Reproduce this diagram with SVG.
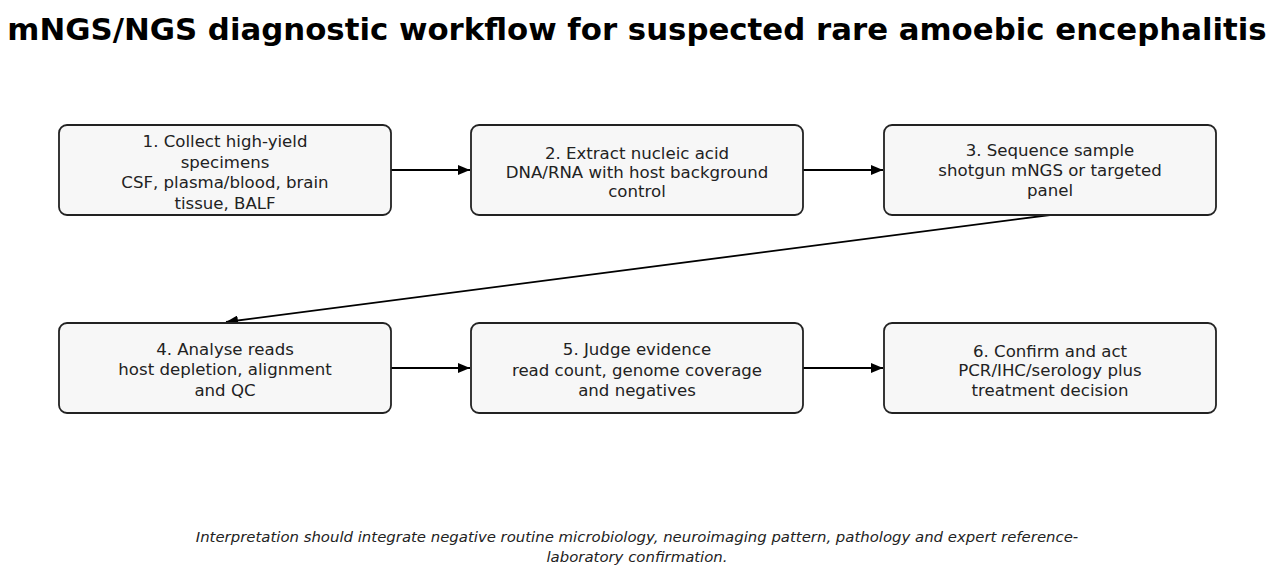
<svg xmlns="http://www.w3.org/2000/svg" width="1275" height="576" viewBox="0 0 1275 576">
<style>
.box{fill:#f7f7f7;stroke:#222;stroke-width:1.8}
.t{font-family:"DejaVu Sans",sans-serif;font-size:16.6px;fill:#222;text-anchor:middle}
.title{font-family:"DejaVu Sans",sans-serif;font-size:30.8px;font-weight:bold;fill:#000;text-anchor:middle}
.foot{font-family:"DejaVu Sans",sans-serif;font-size:14.9px;font-style:italic;fill:#222;text-anchor:middle}
.c{stroke:#000;stroke-width:1.8;fill:none}
</style>
<defs>
<marker id="ah" viewBox="0 0 12 10" refX="12" refY="5" markerWidth="12" markerHeight="10" markerUnits="userSpaceOnUse" orient="auto">
<path d="M0,0 L12,5 L0,10 z" fill="#000"/>
</marker>
</defs>
<rect width="1275" height="576" fill="#fff"/>
<text class="title" x="637" y="40">mNGS/NGS diagnostic workflow for suspected rare amoebic encephalitis</text>
<g id="connectors">
<line class="c" x1="391" y1="170" x2="470" y2="170" marker-end="url(#ah)"/>
<line class="c" x1="803" y1="170" x2="883" y2="170" marker-end="url(#ah)"/>
<line class="c" x1="1050" y1="215" x2="226" y2="322" marker-end="url(#ah)"/>
<line class="c" x1="391" y1="368" x2="470" y2="368" marker-end="url(#ah)"/>
<line class="c" x1="803" y1="368" x2="883" y2="368" marker-end="url(#ah)"/>
</g>
<g id="node1">
<rect class="box" x="59" y="125" width="332" height="90" rx="8"/>
<text class="t" x="225" y="147">1. Collect high-yield</text>
<text class="t" x="225" y="167.5">specimens</text>
<text class="t" x="225" y="188">CSF, plasma/blood, brain</text>
<text class="t" x="225" y="208.5">tissue, BALF</text>
</g>
<g id="node2">
<rect class="box" x="471" y="125" width="332" height="90" rx="8"/>
<text class="t" x="637" y="159">2. Extract nucleic acid</text>
<text class="t" x="637" y="178">DNA/RNA with host background</text>
<text class="t" x="637" y="197">control</text>
</g>
<g id="node3">
<rect class="box" x="884" y="125" width="332" height="90" rx="8"/>
<text class="t" x="1050" y="156">3. Sequence sample</text>
<text class="t" x="1050" y="176">shotgun mNGS or targeted</text>
<text class="t" x="1050" y="196">panel</text>
</g>
<g id="node4">
<rect class="box" x="59" y="323" width="332" height="90" rx="8"/>
<text class="t" x="225" y="355">4. Analyse reads</text>
<text class="t" x="225" y="375">host depletion, alignment</text>
<text class="t" x="225" y="396">and QC</text>
</g>
<g id="node5">
<rect class="box" x="471" y="323" width="332" height="90" rx="8"/>
<text class="t" x="637" y="355">5. Judge evidence</text>
<text class="t" x="637" y="375.5">read count, genome coverage</text>
<text class="t" x="637" y="396">and negatives</text>
</g>
<g id="node6">
<rect class="box" x="884" y="323" width="332" height="90" rx="8"/>
<text class="t" x="1050" y="357">6. Confirm and act</text>
<text class="t" x="1050" y="376">PCR/IHC/serology plus</text>
<text class="t" x="1050" y="396">treatment decision</text>
</g>
<text class="foot" x="637" y="542">Interpretation should integrate negative routine microbiology, neuroimaging pattern, pathology and expert reference-</text>
<text class="foot" x="637" y="562">laboratory confirmation.</text>
</svg>
